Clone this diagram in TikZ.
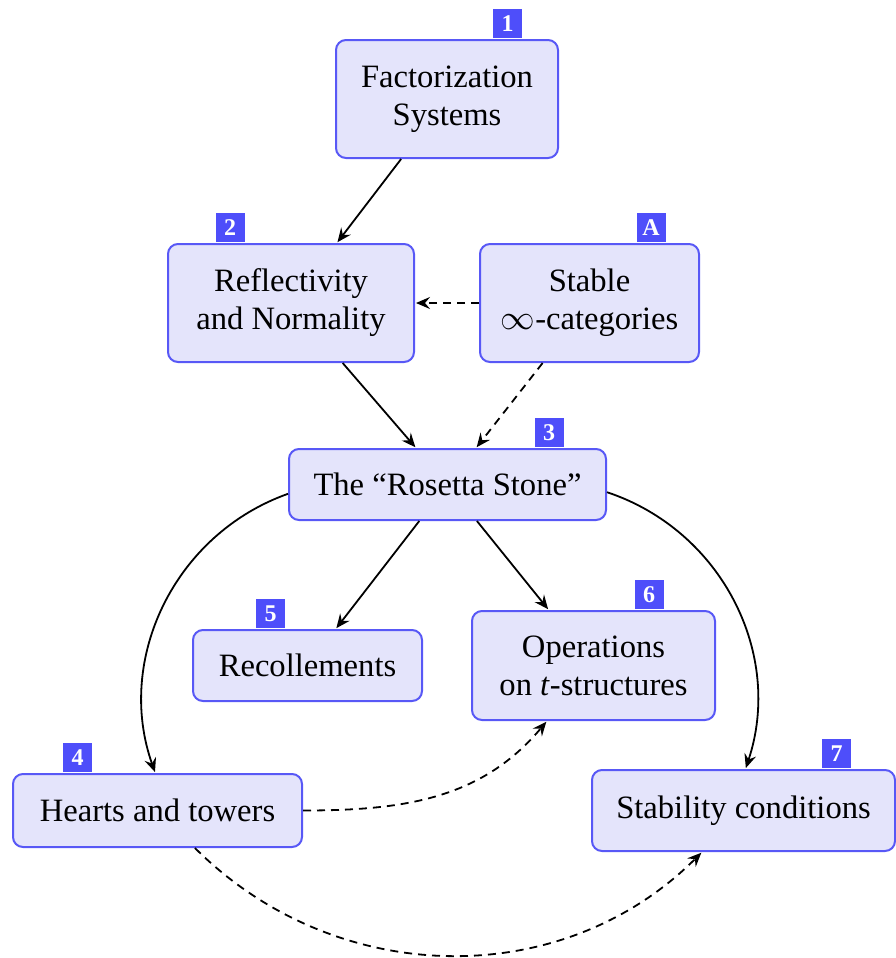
\documentclass[tikz,border=0pt]{standalone}
\usepackage{fontspec}
\setmainfont{Liberation Serif}
\usetikzlibrary{arrows.meta}

\definecolor{boxfill}{RGB}{228,228,251}
\definecolor{boxline}{RGB}{88,88,246}
\definecolor{tagblue}{RGB}{78,78,250}

\tikzset{
  topic/.style={draw=boxline, fill=boxfill, line width=1pt, rounded corners=5pt,
    align=center, inner sep=2pt, font=\fontsize{16.3}{19}\selectfont},
  tag/.style={fill=tagblue, text=white, font=\bfseries\fontsize{12}{12}\selectfont,
    minimum size=14.5pt, inner sep=0pt, anchor=south}
}

\begin{document}
\begin{tikzpicture}[x=0.5pt, y=-0.5pt, >={Stealth[length=7pt, width=6pt, inset=2.5pt]},
    line width=0.9pt, shorten >=0.5pt]
    \useasboundingbox (0,0) rectangle (895,958);

    %define the chapters
    \node[topic, minimum width=111pt, minimum height=59pt]   (fs)  at (447,99)     {Factorization\\Systems};
    \node[topic, minimum width=123pt, minimum height=59pt]   (rn)  at (291,303)    {Reflectivity\\and Normality};
    \node[topic, minimum width=109.5pt, minimum height=59pt] (st)  at (589.5,303)  {Stable\\$\infty$-categories};
    \node[topic, minimum width=158.5pt, minimum height=35.5pt] (rs) at (447.5,484.5) {The “Rosetta Stone”};
    \node[topic, minimum width=114.5pt, minimum height=35.5pt] (rec) at (307.5,665.5) {Recollements};
    \node[topic, minimum width=121.5pt, minimum height=54.5pt] (ops) at (593.5,665.5) {Operations\\on \textit{t}-structures};
    \node[topic, minimum width=144.5pt, minimum height=36.5pt] (ht)  at (157.5,810.5) {Hearts and towers};
    \node[topic, minimum width=151.5pt, minimum height=40.5pt] (sc)  at (743.5,810.5) {Stability conditions};

    %define the chapter numbers
    \node[tag] (t1) at ([xshift=30.25pt]fs.north)  {1};
    \node[tag] (t2) at ([xshift=-30.5pt]rn.north)  {2};
    \node[tag] (tA) at ([xshift=30.75pt]st.north)  {A};
    \node[tag] (t3) at ([xshift=50.75pt]rs.north)  {3};
    \node[tag] (t5) at ([xshift=-18.5pt]rec.north) {5};
    \node[tag] (t6) at ([xshift=27.75pt]ops.north) {6};
    \node[tag] (t4) at ([xshift=-40pt]ht.north)    {4};
    \node[tag] (t7) at ([xshift=46.5pt]sc.north)   {7};

    %define the links
    \path[->] (fs) edge                (rn)
              (rn) edge                (rs)
              (rs) edge                (rec)
                   edge                (ops)
                   edge[bend right=45] (ht)
                   edge[bend left=45]  (sc);
    \path[->, dash pattern=on 4pt off 3pt]
              (st) edge                (rn)
                   edge                (rs)
              (ht) edge[out=0, in=-130]   (ops)
                   edge[out=-45, in=-135] (sc);
\end{tikzpicture}
\end{document}
